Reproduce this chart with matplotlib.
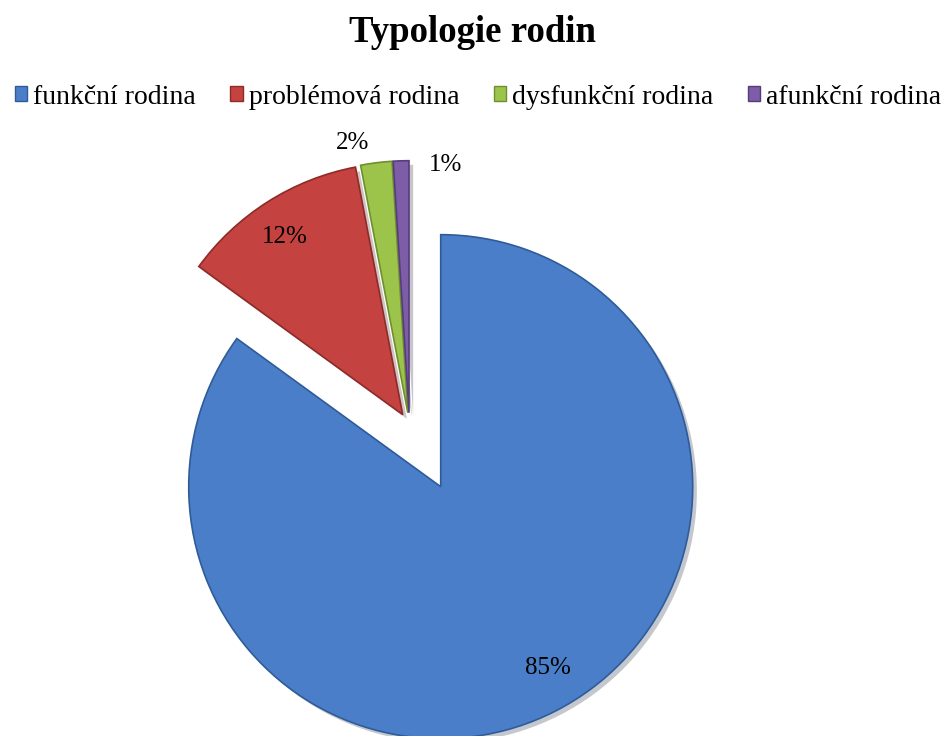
import numpy as np
import matplotlib.pyplot as plt
import matplotlib.patheffects as pe
from matplotlib.patches import Patch

plt.rcParams['font.family'] = ['Liberation Serif', 'DejaVu Serif']

# data
categories = ['funkční rodina', 'problémová rodina', 'dysfunkční rodina', 'afunkční rodina']
values = [85, 12, 2, 1]
pct_labels = ['85%', '12%', '2%', '1%']

# styling
colors = ['#4A7EC8', '#C4423F', '#9CC44A', '#7D5CA8']
edge_colors = ['#2F5C98', '#8E2B29', '#6F8E2E', '#553C7A']
explode = [69, 12.5, 12.5, 12.5]          # offsets in pixel units
label_dist = [0.836, 0.845, 1.092, 0.993]  # fraction of radius from wedge tip
label_turn = [3.6, 1.1, 4.3, -10.1]        # degrees off the wedge middle

fig = plt.figure(figsize=(9.44, 7.36), dpi=100)
ax = fig.add_axes([0, 0, 1, 1])

wedges, _ = ax.pie(values, colors=colors, startangle=90, counterclock=False,
                   center=(409.4, 310.8), radius=252, explode=explode,
                   wedgeprops=dict(linewidth=1.2))

for w, ec in zip(wedges, edge_colors):
    w.set_edgecolor(ec)
    w.set_path_effects([pe.SimplePatchShadow(offset=(3, -3), alpha=0.25),
                        pe.Normal()])

# percentage labels
for w, txt, d, turn in zip(wedges, pct_labels, label_dist, label_turn):
    th = np.deg2rad((w.theta1 + w.theta2) / 2 + turn)
    cx, cy = w.center
    ax.text(cx + d * w.r * np.cos(th), cy + d * w.r * np.sin(th), txt,
            ha='center', va='center', fontsize=18)

ax.set_xlim(0, 944)
ax.set_ylim(0, 736)
ax.set_aspect('equal')
ax.axis('off')

fig.text(0.5, 1 - 32 / 736, 'Typologie rodin', ha='center', va='center',
         fontsize=26.5, fontweight='bold')

handles = [Patch(facecolor=c, edgecolor=e, linewidth=1) for c, e in zip(colors, edge_colors)]
fig.legend(handles, categories, loc='center', bbox_to_anchor=(478 / 944, 1 - 97 / 736),
           ncol=4, frameon=False, fontsize=20, handlelength=0.45, handleheight=0.45,
           handletextpad=0.2, columnspacing=1.25)

plt.savefig('out.png', dpi=100)
